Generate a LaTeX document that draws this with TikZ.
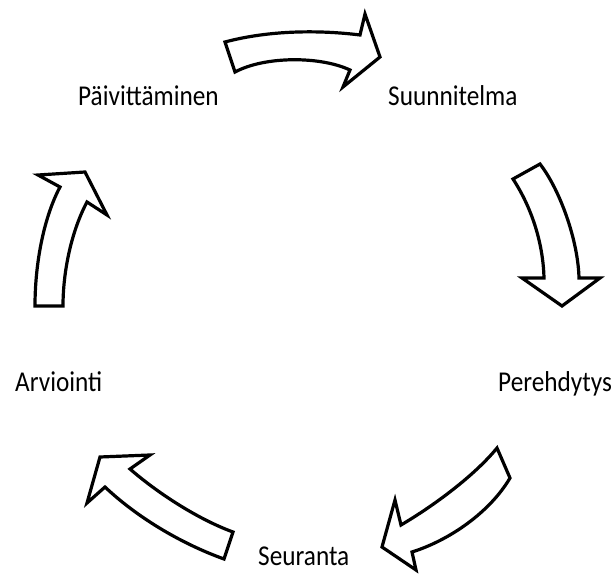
\documentclass[tikz,border=0pt]{standalone}
\usepackage{fontspec}
\setmainfont[FakeStretch=0.88]{Carlito}
\tikzset{
  cyclearrow/.style={draw=black, fill=white, line width=3.2pt, line join=miter, miter limit=10},
  lbl/.style={anchor=base west, inner sep=0pt, font=\fontsize{28.7}{30}\selectfont}
}
\begin{document}
\begin{tikzpicture}[x=1pt,y=-1pt]
\useasboundingbox (0,0) rectangle (614,577);
% labels
\node[lbl] (paiv) at (78,106) {Päivittäminen};
\node[lbl] (suun) at (388,106) {Suunnitelma};
\node[lbl] (pere) at (498,392) {Perehdytys};
\node[lbl] (arvi) at (15,392) {Arviointi};
\node[lbl] (seur) at (258,566) {Seuranta};
% top arrow
\draw[cyclearrow] (225,42) .. controls (270,30) and (320,30) .. (360,35)
  -- (365,14) -- (380,57) -- (343,87) -- (350,70)
  .. controls (320,56) and (265,56) .. (235,72) -- cycle;
% right arrow
\draw[cyclearrow] (513,179) -- (540,164)
  .. controls (560,190) and (578,240) .. (579,278)
  -- (600,278) -- (562,306) -- (522,278) -- (544,278)
  .. controls (543,240) and (530,205) .. (513,179) -- cycle;
% bottom right arrow
\draw[cyclearrow] (497,448) .. controls (475,475) and (435,505) .. (401,525)
  -- (395,500) -- (382,547) -- (416,570) -- (412,552)
  .. controls (450,540) and (490,512) .. (510,478) -- cycle;
% bottom left arrow
\draw[cyclearrow] (233,532) .. controls (200,520) and (160,495) .. (130,469)
  -- (150,455) -- (100,457) -- (87,503) -- (105,487)
  .. controls (140,520) and (185,545) .. (224,559) -- cycle;
% left arrow
\draw[cyclearrow] (35,306) .. controls (35,260) and (45,215) .. (60,187)
  -- (38,175) -- (85,172) -- (107,215) -- (87,202)
  .. controls (72,230) and (63,270) .. (63,306) -- cycle;
\end{tikzpicture}
\end{document}
